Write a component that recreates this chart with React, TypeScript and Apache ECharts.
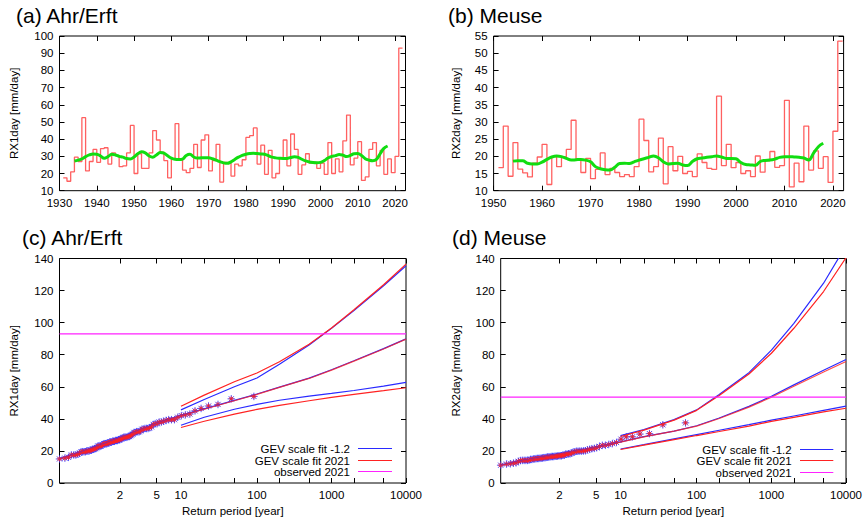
import React, { useEffect, useRef } from "react";
import * as echarts from "echarts";

// ---------------- data ----------------
const AHR_START_YEAR = 1931;
// RX1day Ahr/Erft, 1931..2021 [mm/day]
const ahrRX1day = [
  17.5, 15.5, 21, 29.5, 27, 52.5, 21.5, 27, 34, 26.5,
  34.5, 35, 25.5, 32, 30.5, 24, 24.5, 32, 48, 20,
  31.5, 23, 23, 32, 45, 39.5, 32.5, 27.5, 17.5, 28.5,
  49, 28.5, 22, 20.5, 23, 37, 23.5, 39.5, 42.5, 21.5,
  27.5, 37, 15, 26.5, 26, 18.5, 25.5, 24.5, 28, 41,
  42, 46.5, 25.5, 36.5, 19.5, 33.5, 17.5, 20, 29, 39.5,
  24.5, 43, 34, 19.5, 25, 31.5, 26, 26.5, 23, 26,
  19.5, 38, 20, 28.5, 21, 39, 54, 25, 29, 38.5,
  16, 18, 34, 38, 24.5, 33.5, 19.5, 28.5, 20.5, 30,
  93,
];
const AHR_SMOOTH_START = 1934;
const ahrSmooth = [
  27.3, 27.8, 28.5, 29.8, 30.8, 31.3, 31.2, 30.2, 28.9, 29.8,
  31.2, 30.8, 30.0, 29.5, 28.7, 28.5, 29.6, 31.5, 32.6, 32.0,
  30.3, 29.5, 30.8, 32.2, 31.8, 30.3, 29.0, 28.3, 28.1, 28.4,
  30.5, 31.2, 29.6, 29.0, 29.1, 29.2, 29.2, 28.6, 27.8, 26.9,
  26.2, 25.9, 26.8, 28.2, 29.5, 30.6, 31.2, 31.6, 31.8, 31.6,
  31.4, 31.2, 30.4, 29.5, 29.1, 28.9, 28.8, 28.8, 29.3, 29.7,
  29.4, 28.3, 27.3, 26.7, 26.4, 26.3, 26.5, 27.5, 29.0, 30.0,
  30.4, 31.1, 30.7, 29.9, 30.5, 31.5, 31.6, 30.5, 28.6, 27.8,
  27.4, 28.2, 31.5, 34.6, 36.0,
];

const MEUSE_START_YEAR = 1951;
// RX2day Meuse, 1951..2021 [mm/day]
const meuseRX2day = [
  16.7, 28.8, 14.2, 24, 16.3, 15.2, 14, 18, 19.8, 23.5,
  11.8, 19.9, 17, 19.8, 22, 30.5, 19.2, 15.3, 19.4, 13.5,
  16.2, 21, 14.7, 16.5, 15.3, 14.1, 14.7, 14.1, 17, 30.8,
  24.6, 15.5, 17, 25.3, 12, 22.8, 15.8, 20, 15, 15.6,
  14.1, 20.7, 18.2, 16.5, 16.2, 37.5, 17.3, 23.5, 16.7, 18.2,
  15, 15.8, 14.1, 20.1, 15.4, 18.7, 21.4, 16.8, 17.3, 36.3,
  11.1, 18, 12.6, 28.8, 16, 21.6, 16.5, 19.9, 12.4, 27.3,
  53.5,
];
const MEUSE_SMOOTH_START = 1954;
const meuseSmooth = [
  18.6, 18.7, 18.7, 18.0, 17.8, 17.8, 18.3, 19.1, 19.8, 20.1,
  19.9, 19.4, 18.9, 19.0, 19.1, 18.9, 18.4, 17.0, 16.4, 16.1,
  16.0, 16.8, 17.9, 18.0, 17.9, 18.4, 18.9, 19.3, 19.7, 20.1,
  19.6, 18.4, 17.8, 17.9, 17.95, 17.5, 17.3, 18.5, 19.3, 19.5,
  19.7, 19.9, 20.1, 19.8, 19.4, 19.4, 19.3, 18.2, 17.6, 17.5,
  17.4, 18.5, 18.8, 18.9, 19.2, 19.7, 19.9, 19.9, 19.8, 19.7,
  19.5, 18.9, 20.9, 22.8, 23.8,
];

// return-period axis
const returnPeriodLabels = [2, 5, 10, 100, 1000, 10000];
const returnPeriodTicks = [2, 5, 10, 20, 50, 100, 200, 500, 1000, 2000, 5000, 10000];

// GEV fits (return period -> return value)
const boundT = [10, 20, 50, 100, 200, 500, 1000, 2000, 5000, 10000];
const ahrCentralT = [1.011, 1.1, 1.5, 2, 5, 10, 20, 50, 100, 200, 500, 1000, 2000, 5000, 10000];
const ahrBlueCentral = [15.2, 19.2, 24.8, 28.2, 37.2, 42.2, 46.2, 51.5, 55.5, 59.8, 65.4, 70.6, 76.2, 83.8, 89.9];
const ahrRedCentral = [15, 19, 24.6, 28, 37, 42, 46, 51.3, 55.3, 59.6, 65.2, 70.4, 76, 83.6, 89.7];
const ahrBlueUpper = [45.6, 52.1, 60.0, 65.5, 74.0, 86.0, 96.5, 107.5, 123.0, 135.5];
const ahrRedUpper = [47.9, 54.8, 63.1, 68.6, 75.6, 86.5, 96.7, 108, 123.6, 136.5];
const ahrBlueLower = [36.0, 41.0, 46.0, 49.0, 51.6, 54.2, 55.9, 57.7, 60.4, 62.8];
const ahrRedLower = [34.6, 38.5, 43.0, 45.9, 48.4, 51.3, 53.4, 55.3, 57.6, 59.4];

const meuseCentralT = [1.014, 1.1, 1.5, 2, 5, 10, 20, 50, 100, 200, 500, 1000, 2000, 5000, 10000];
const meuseBlueCentral = [11.2, 13.6, 16.4, 18.3, 22.4, 25.6, 28.9, 32.4, 35.7, 40.5, 47.8, 54.1, 61.2, 70.3, 77.0];
const meuseRedCentral = [11, 13.5, 16.3, 18.2, 22.3, 25.5, 28.8, 32.3, 35.5, 40.2, 47.3, 53.5, 60.3, 69.2, 75.8];
const meuseBlueUpper = [29.5, 33.3, 39.5, 45.6, 55.2, 68.8, 82.9, 99.6, 124.6, 148];
const meuseRedUpper = [29.0, 33.0, 39.2, 45.3, 54.6, 68.0, 80.9, 96.5, 119.4, 140.5];
const meuseBlueLower = [21.2, 23.9, 27.5, 30.2, 32.9, 36.4, 39.2, 41.8, 45.3, 47.9];
const meuseRedLower = [20.9, 23.6, 27.0, 29.6, 32.1, 35.5, 38.4, 40.9, 44.3, 46.6];

// legend labels
const NAME_COLD = "GEV scale fit -1.2";
const NAME_NOW = "GEV scale fit 2021";
const NAME_OBS = "observed 2021";

// ---------------- helpers ----------------
const FONT = "'Liberation Sans', Arial, Helvetica, sans-serif";
const BLUE = "#2a2aff";
const RED = "#ff2222";
const MAGENTA = "#ff22ff";
const GREEN = "#11dd11";
const STEP_RED = "#ff4444";
const STAR = "path://M4,0 L4,8 M0,4 L8,4 M1.2,1.2 L6.8,6.8 M6.8,1.2 L1.2,6.8";

const gumbel = (T: number) => -Math.log(-Math.log(1 - 1 / T));

const stepPoints = (start: number, vals: number[]) => {
  const pts: number[][] = [];
  vals.forEach((v, i) => {
    pts.push([start + i, v], [start + i + 1, v]);
  });
  return pts;
};
const yearPoints = (start: number, vals: number[]) => vals.map((v, i) => [start + i, v]);
const rpPoints = (Ts: number[], vals: number[]) => Ts.map((T, i) => [gumbel(T), vals[i]]);
const plottingPositions = (vals: number[]) => {
  const sorted = [...vals].sort((a, b) => b - a);
  const n = sorted.length;
  return sorted.map((v, i) => [gumbel((n + 1) / (i + 1)), v]);
};

const tickStyle = { show: true, inside: true, length: 5, lineStyle: { color: "#000", width: 1 } };
const labelStyle = { color: "#000", fontSize: 11.5, fontFamily: FONT, margin: 6 };
const nameStyle = { color: "#000", fontSize: 11.5, fontFamily: FONT };
const noLine = { show: false, onZero: false };

function buildOption() {
  const ahrObs = ahrRX1day.slice(0, -1);
  const ahr2021 = ahrRX1day[ahrRX1day.length - 1];
  const meuseObs = meuseRX2day.slice(0, -1);
  const meuse2021 = meuseRX2day[meuseRX2day.length - 1];

  const ahrXMin = gumbel((ahrObs.length + 1) / ahrObs.length);
  const meuseXMin = gumbel((meuseObs.length + 1) / meuseObs.length);
  const rpMax = gumbel(10000);
  const labelPos = returnPeriodLabels.map(gumbel);
  const tickPos = returnPeriodTicks.map(gumbel);
  const rpFormatter = (val: number) => {
    const i = labelPos.findIndex((g) => Math.abs(g - val) < 1e-6);
    return i >= 0 ? String(returnPeriodLabels[i]) : "";
  };

  const yearX = (grid: number, min: number, max: number, top: boolean) => ({
    type: "value",
    gridIndex: grid,
    position: top ? "top" : "bottom",
    min,
    max,
    interval: 10,
    axisLine: noLine,
    axisTick: tickStyle,
    axisLabel: top
      ? { show: false }
      : { ...labelStyle, showMaxLabel: false, formatter: (v: number) => String(v) },
    splitLine: { show: false },
  });
  const rpX = (grid: number, min: number, top: boolean) => ({
    type: "value",
    gridIndex: grid,
    position: top ? "top" : "bottom",
    min,
    max: rpMax,
    axisLine: noLine,
    axisTick: { ...tickStyle, customValues: tickPos },
    axisLabel: top
      ? { show: false }
      : { ...labelStyle, customValues: labelPos, formatter: rpFormatter },
    splitLine: { show: false },
    name: top ? "" : "Return period [year]",
    nameLocation: "middle",
    nameGap: 22,
    nameTextStyle: nameStyle,
  });
  const valY = (grid: number, min: number, max: number, interval: number, name: string, right: boolean, gap: number) => ({
    type: "value",
    gridIndex: grid,
    position: right ? "right" : "left",
    min,
    max,
    interval,
    axisLine: noLine,
    axisTick: tickStyle,
    axisLabel: right ? { show: false } : labelStyle,
    splitLine: { show: false },
    name: right ? "" : name,
    nameLocation: "middle",
    nameGap: gap,
    nameTextStyle: nameStyle,
  });

  const line = (name: string, xi: number, data: number[][], color: string, width = 1.2, extra: any = {}) => ({
    name,
    type: "line",
    xAxisIndex: xi,
    yAxisIndex: xi,
    data,
    showSymbol: false,
    symbol: "none",
    itemStyle: { color },
    lineStyle: { color, width },
    ...extra,
  });
  const stars = (name: string, xi: number, data: number[][], color: string, size: number) => ({
    name,
    type: "scatter",
    xAxisIndex: xi,
    yAxisIndex: xi,
    data,
    symbol: STAR,
    symbolSize: size,
    itemStyle: { color: "transparent", borderColor: color, borderWidth: 1 },
  });

  // key drawn inside panels (c) and (d): text right-aligned, sample line to its right
  const keyEntries = [
    { label: NAME_COLD, color: BLUE },
    { label: NAME_NOW, color: RED },
    { label: NAME_OBS, color: MAGENTA },
  ];
  const keyGroup = (textRight: number, lineX1: number, lineX2: number, rows: number[]) =>
    keyEntries.flatMap((e, i) => [
      {
        type: "text",
        x: textRight,
        y: rows[i],
        style: {
          text: e.label,
          align: "right",
          verticalAlign: "middle",
          fill: "#000",
          fontSize: 11.5,
          fontFamily: FONT,
        },
      },
      {
        type: "line",
        shape: { x1: lineX1, y1: rows[i], x2: lineX2, y2: rows[i] },
        style: { stroke: e.color, lineWidth: 1.2 },
      },
    ]);

  const titleStyle = { fontSize: 21, fontWeight: "normal", color: "#000", fontFamily: FONT };
  const gridStyle = { show: true, borderColor: "#000", borderWidth: 1, backgroundColor: "transparent" };

  return {
    animation: false,
    title: [
      { text: "(a) Ahr/Erft", left: 16, top: 5, padding: 0, textStyle: titleStyle },
      { text: "(b) Meuse", left: 448, top: 5, padding: 0, textStyle: titleStyle },
      { text: "(c) Ahr/Erft", left: 22, top: 227, padding: 0, textStyle: titleStyle },
      { text: "(d) Meuse", left: 452, top: 227, padding: 0, textStyle: titleStyle },
    ],
    grid: [
      { left: 59.5, top: 36, width: 346, height: 154.7, ...gridStyle },
      { left: 493.6, top: 36, width: 350, height: 154.7, ...gridStyle },
      { left: 59.5, top: 258.5, width: 346.5, height: 224.5, ...gridStyle },
      { left: 500.7, top: 258.5, width: 347.6, height: 224.5, ...gridStyle },
    ],
    xAxis: [
      yearX(0, 1930, 2022.8, false),
      yearX(0, 1930, 2022.8, true),
      yearX(1, 1950, 2022.2, false),
      yearX(1, 1950, 2022.2, true),
      rpX(2, ahrXMin, false),
      rpX(2, ahrXMin, true),
      rpX(3, meuseXMin, false),
      rpX(3, meuseXMin, true),
    ],
    yAxis: [
      valY(0, 10, 100, 10, "RX1day [mm/day]", false, 40),
      valY(0, 10, 100, 10, "", true, 0),
      valY(1, 10, 55, 5, "RX2day [mm/day]", false, 32),
      valY(1, 10, 55, 5, "", true, 0),
      valY(2, 0, 140, 20, "RX1day [mm/day]", false, 40),
      valY(2, 0, 140, 20, "", true, 0),
      valY(3, 0, 140, 20, "RX2day [mm/day]", false, 39),
      valY(3, 0, 140, 20, "", true, 0),
    ],
    graphic: [
      ...keyGroup(350, 358, 392, [448.5, 460.5, 471.5]),
      ...keyGroup(791.7, 800, 833.3, [449.5, 460.5, 472.5]),
    ],
    series: [
      // (a)
      line("Ahr RX1day", 0, stepPoints(AHR_START_YEAR, ahrRX1day), STEP_RED, 1.3, { lineStyle: { color: STEP_RED, width: 1.3, opacity: 0.85 } }),
      line("Ahr smoothed", 0, yearPoints(AHR_SMOOTH_START, ahrSmooth), GREEN, 3, { smooth: 0.4 }),
      // (b)
      line("Meuse RX2day", 2, stepPoints(MEUSE_START_YEAR, meuseRX2day), STEP_RED, 1.3, { lineStyle: { color: STEP_RED, width: 1.3, opacity: 0.85 } }),
      line("Meuse smoothed", 2, yearPoints(MEUSE_SMOOTH_START, meuseSmooth), GREEN, 3, { smooth: 0.4 }),
      // (c)
      line(NAME_COLD, 4, rpPoints(ahrCentralT, ahrBlueCentral), BLUE),
      line(NAME_COLD, 4, rpPoints(boundT, ahrBlueUpper), BLUE),
      line(NAME_COLD, 4, rpPoints(boundT, ahrBlueLower), BLUE),
      line(NAME_NOW, 4, rpPoints(ahrCentralT, ahrRedCentral), RED, 1.2, { lineStyle: { color: RED, width: 1.2, opacity: 0.8 } }),
      line(NAME_NOW, 4, rpPoints(boundT, ahrRedUpper), RED),
      line(NAME_NOW, 4, rpPoints(boundT, ahrRedLower), RED),
      line(NAME_OBS, 4, [[ahrXMin, ahr2021], [rpMax, ahr2021]], MAGENTA),
      stars("Ahr obs -1.2", 4, plottingPositions(ahrObs), BLUE, 7.5),
      stars("Ahr obs 2021", 4, plottingPositions(ahrObs), RED, 5),
      // (d)
      line(NAME_COLD, 6, rpPoints(meuseCentralT, meuseBlueCentral), BLUE),
      line(NAME_COLD, 6, rpPoints(boundT, meuseBlueUpper), BLUE),
      line(NAME_COLD, 6, rpPoints(boundT, meuseBlueLower), BLUE),
      line(NAME_NOW, 6, rpPoints(meuseCentralT, meuseRedCentral), RED, 1.2, { lineStyle: { color: RED, width: 1.2, opacity: 0.8 } }),
      line(NAME_NOW, 6, rpPoints(boundT, meuseRedUpper), RED),
      line(NAME_NOW, 6, rpPoints(boundT, meuseRedLower), RED),
      line(NAME_OBS, 6, [[meuseXMin, meuse2021], [rpMax, meuse2021]], MAGENTA),
      stars("Meuse obs -1.2", 6, plottingPositions(meuseObs), BLUE, 7.5),
      stars("Meuse obs 2021", 6, plottingPositions(meuseObs), RED, 5),
    ],
  };
}

export default function App() {
  const ref = useRef<HTMLDivElement>(null);
  useEffect(() => {
    if (!ref.current) return;
    const chart = echarts.init(ref.current, undefined, { renderer: "svg" });
    chart.setOption(buildOption() as any);
    return () => chart.dispose();
  }, []);
  return (
    <div
      ref={ref}
      style={{ position: "fixed", left: 0, top: 0, width: 865, height: 520, background: "#fff" }}
    />
  );
}
